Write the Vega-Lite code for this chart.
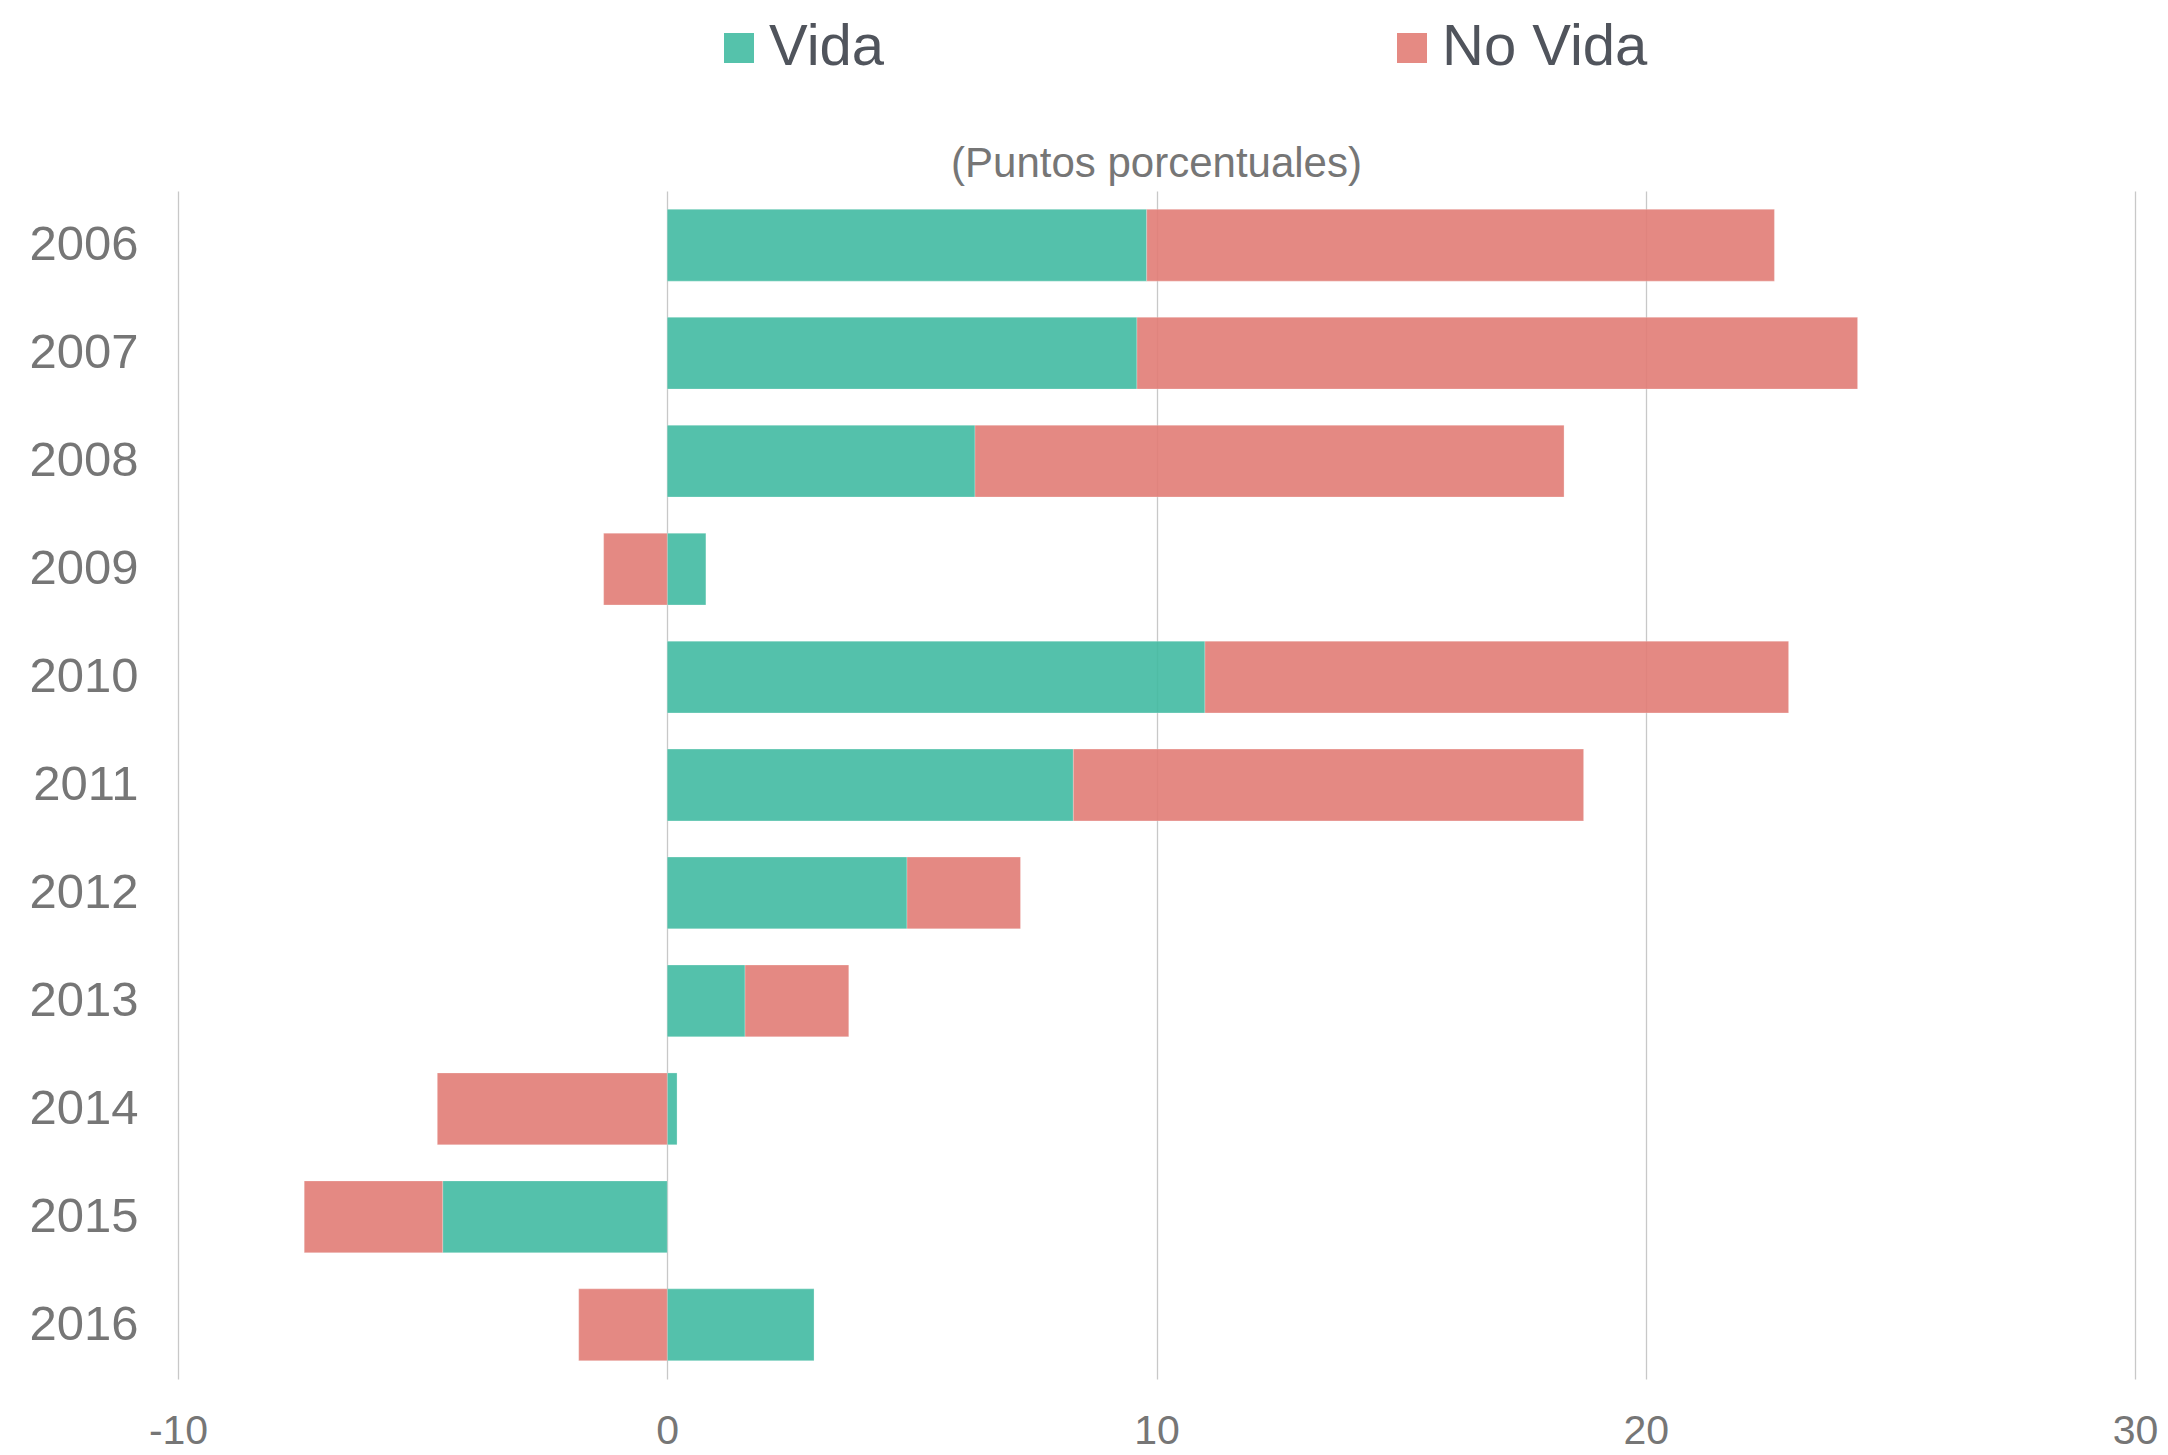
{
  "$schema": "https://vega.github.io/schema/vega-lite/v6.json",
  "width": 1957,
  "height": 1188,
  "autosize": "none",
  "padding": {"left": 178, "top": 191, "right": 33, "bottom": 76},
  "background": "white",
  "title": {
    "text": "(Puntos porcentuales)",
    "font": "Liberation Sans",
    "fontSize": 42,
    "fontWeight": "normal",
    "color": "#767676",
    "offset": 14,
    "dy": 181,
    "anchor": "middle"
  },
  "data": {
    "values": [
      {"anio": "2006", "serie": "Vida", "valor": 9.8},
      {"anio": "2006", "serie": "No Vida", "valor": 12.83},
      {"anio": "2007", "serie": "Vida", "valor": 9.6},
      {"anio": "2007", "serie": "No Vida", "valor": 14.73},
      {"anio": "2008", "serie": "Vida", "valor": 6.29},
      {"anio": "2008", "serie": "No Vida", "valor": 12.04},
      {"anio": "2009", "serie": "Vida", "valor": 0.79},
      {"anio": "2009", "serie": "No Vida", "valor": -1.3},
      {"anio": "2010", "serie": "Vida", "valor": 10.99},
      {"anio": "2010", "serie": "No Vida", "valor": 11.93},
      {"anio": "2011", "serie": "Vida", "valor": 8.3},
      {"anio": "2011", "serie": "No Vida", "valor": 10.43},
      {"anio": "2012", "serie": "Vida", "valor": 4.9},
      {"anio": "2012", "serie": "No Vida", "valor": 2.32},
      {"anio": "2013", "serie": "Vida", "valor": 1.59},
      {"anio": "2013", "serie": "No Vida", "valor": 2.12},
      {"anio": "2014", "serie": "Vida", "valor": 0.2},
      {"anio": "2014", "serie": "No Vida", "valor": -4.7},
      {"anio": "2015", "serie": "Vida", "valor": -4.59},
      {"anio": "2015", "serie": "No Vida", "valor": -2.83},
      {"anio": "2016", "serie": "Vida", "valor": 3.0},
      {"anio": "2016", "serie": "No Vida", "valor": -1.81}
    ]
  },
  "mark": {"type": "bar", "opacity": 0.9, "stroke": "white", "strokeOpacity": 0.25, "strokeWidth": 1},
  "encoding": {
    "y": {
      "field": "anio",
      "type": "ordinal",
      "title": null,
      "scale": {"paddingInner": 0.335, "paddingOuter": 0.17},
      "axis": {
        "domain": false,
        "ticks": false,
        "labelFont": "Liberation Sans",
        "labelFontSize": 49,
        "labelColor": "#767676",
        "labelPadding": 40
      }
    },
    "x": {
      "field": "valor",
      "type": "quantitative",
      "stack": "zero",
      "title": null,
      "scale": {"domain": [-10, 30], "nice": false},
      "axis": {
        "values": [-10, 0, 10, 20, 30],
        "labelExpr": "datum.value < 0 ? '-' + abs(datum.value) : '' + datum.value",
        "domain": false,
        "ticks": false,
        "grid": true,
        "gridColor": "#c8c8c8",
        "gridWidth": 1.3,
        "labelFont": "Liberation Sans",
        "labelFontSize": 41,
        "labelColor": "#767676",
        "labelPadding": 32,
        "labelFlush": false
      }
    },
    "color": {
      "field": "serie",
      "type": "nominal",
      "scale": {"domain": ["Vida", "No Vida"], "range": ["#42bba2", "#e27d76"]},
      "legend": {
        "title": null,
        "orient": "none",
        "direction": "horizontal",
        "legendX": 532,
        "legendY": -172,
        "symbolType": "square",
        "symbolSize": 900,
        "symbolStrokeWidth": 0,
        "symbolOpacity": 0.9,
        "labelFont": "Liberation Sans",
        "labelFontSize": 58,
        "labelColor": "#50545c",
        "labelOffset": 1,
        "columnPadding": 498,
        "labelLimit": 400
      }
    },
    "order": {"field": "serie", "sort": "descending"}
  },
  "config": {
    "view": {"stroke": null}
  }
}
